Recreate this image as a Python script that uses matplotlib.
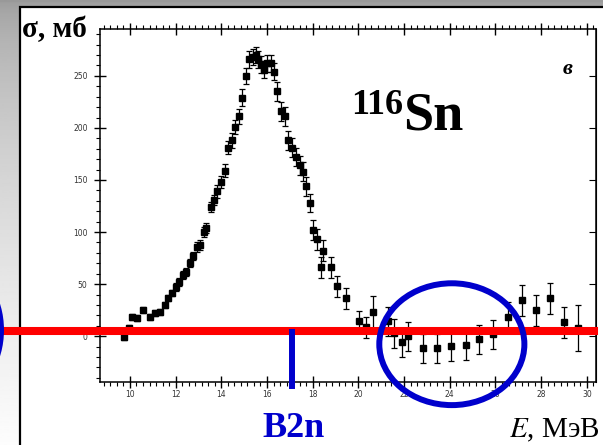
import numpy as np
import matplotlib.pyplot as plt
from matplotlib.patches import Ellipse, Rectangle
from matplotlib.ticker import MultipleLocator, FixedLocator

# энергия, МэВ
energy = [9.74, 9.96, 10.09, 10.31, 10.57, 10.88, 11.09, 11.31, 11.53, 11.66,
          11.84, 12.01, 12.14, 12.32, 12.45, 12.63, 12.76, 12.93, 13.06, 13.24,
          13.33, 13.54, 13.68, 13.81, 13.98, 14.16, 14.29, 14.46, 14.60, 14.77,
          14.90, 15.08, 15.21, 15.38, 15.51, 15.60, 15.73, 15.86, 16.00, 16.17,
          16.30, 16.43, 16.61, 16.78, 16.91, 17.09, 17.26, 17.44, 17.57, 17.70,
          17.88, 18.01, 18.18, 18.45, 18.36, 18.80, 19.06, 19.45, 20.02, 20.33,
          20.63, 21.29, 21.55, 21.90, 22.17, 22.82, 23.44, 24.05, 24.70, 25.27,
          25.89, 26.54, 27.16, 27.77, 28.38, 28.99, 29.61]
# сечение, мб
sigma = [-1, 7.7, 18.3, 17.3, 25, 18.3, 22, 23, 29.8, 36.5,
         41.3, 47, 52, 58.7, 61.5, 70, 77, 85.6, 87.5, 100,
         104, 124, 131, 139, 148, 159, 181, 188, 201, 211,
         229, 250, 266, 268, 270, 266, 261, 256, 262, 262,
         254, 235, 216, 211, 188, 181, 172, 164, 158, 144,
         128, 102, 93, 82, 66, 66, 48, 36.5, 14.4, 8.7,
         23, 14.4, 2.9, -5.8, 0, -11.5, -11.5, -9.6, -8.7, -2.9,
         1.9, 18.3, 34.6, 25, 36.5, 13.5, 7.7]
sigma_err = [3, 3, 3, 3, 3, 3, 3, 3, 3, 3,
             3, 4, 4, 4, 4, 4, 4, 5, 5, 5,
             5, 5, 5, 6, 6, 6, 6, 7, 7, 7,
             8, 8, 8, 8, 8, 8, 8, 8, 8, 8,
             8, 9, 9, 9, 9, 9, 9, 9, 9, 9,
             9, 10, 10, 10, 10, 10, 10, 10, 10, 10,
             16, 14, 14, 14, 14, 14, 14, 14, 14, 14,
             14, 15, 15, 15, 15, 15, 22]

x_ticks = [10, 12, 14, 16, 18, 20, 22, 24, 26, 28, 30]
y_ticks = [0, 50, 100, 150, 200, 250]

b2n = 17.1       # порог B2n, МэВ
level = 5        # красная линия

serif = ['Liberation Serif', 'DejaVu Serif']

fig = plt.figure(figsize=(6.03, 4.45), dpi=100)

# фон слайда
bg = fig.add_axes([0, 0, 1, 1], zorder=-10)
grad = np.linspace(0, 1, 200) ** 0.55
grad = 0.6 + 0.39 * grad
bg.imshow(grad[:, None], extent=[0, 1, 0, 1], aspect='auto', cmap='gray',
          vmin=0, vmax=1, origin='upper')
bg.add_patch(Rectangle((20 / 603, -0.1), 1.0, 1 - 7 / 445 + 0.1,
                       transform=bg.transAxes, facecolor='white',
                       edgecolor='black', linewidth=1.6))
bg.set_xlim(0, 1)
bg.set_ylim(0, 1)
bg.axis('off')

ax = fig.add_axes([100 / 603, 1 - 382 / 445, 496 / 603, 353 / 445])
ax.errorbar(energy, sigma, yerr=sigma_err, fmt='s', color='black',
            markersize=4.8, elinewidth=0.9, capsize=2.4, capthick=0.9)

ax.set_xlim(8.69, 30.4)
ax.set_ylim(-44, 295)
ax.xaxis.set_major_locator(FixedLocator(x_ticks))
ax.xaxis.set_minor_locator(MultipleLocator(2 / 7))
ax.yaxis.set_major_locator(FixedLocator(y_ticks))
ax.yaxis.set_minor_locator(MultipleLocator(10))
ax.tick_params(which='major', direction='inout', length=8, width=1,
               top=True, right=False, labelsize=5.5, labelcolor='#333333')
ax.tick_params(which='minor', direction='out', length=3, width=0.8,
               top=True, right=False)
ax.tick_params(axis='x', pad=2)
ax.tick_params(axis='y', pad=5)
for s in ax.spines.values():
    s.set_linewidth(1.1)

right = ax.secondary_yaxis('right')
right.yaxis.set_major_locator(FixedLocator(y_ticks))
right.tick_params(direction='in', length=5, labelright=False)

# красная линия и порог B2n
ax.axhline(level, xmin=-100 / 496, xmax=494 / 496, color='#ff0000',
           linewidth=5.8, clip_on=False, zorder=5)
ax.axvline(b2n, ymin=-4 / 353, ymax=50 / 353, color='#0000cc',
           linewidth=4.3, clip_on=False, zorder=6)

ax.add_patch(Ellipse((24.09, -7.7), 6.35, 117, fill=False,
                     edgecolor='#0000cc', linewidth=4.3, clip_on=False,
                     zorder=7))
fig.add_artist(Ellipse((-40 / 603, 1 - 330 / 445), 82 / 603, 120 / 445,
                       transform=fig.transFigure, fill=False,
                       edgecolor='#0000cc', linewidth=4.3))

# подписи
fig.text(22 / 603, 1 - 37 / 445, 'σ, мб', family=serif, fontsize=21,
         fontweight='bold')
fig.text(600 / 603, 1 - 437 / 445, '$\\mathit{E}$, МэВ', family=serif,
         fontsize=21, ha='right', math_fontfamily='stix')
fig.text(262 / 603, 1 - 437 / 445, 'B2n', family=serif, fontsize=26,
         fontweight='bold', color='#0000cc')
fig.text(403 / 603, 1 - 89 / 445, '116', family=serif, fontsize=26,
         fontweight='bold', ha='right', va='top')
fig.text(403 / 603, 1 - 130 / 445, 'Sn', family=serif, fontsize=39,
         fontweight='bold', ha='left', va='baseline')
fig.text(568 / 603, 1 - 74 / 445, 'в', family=serif, fontsize=16,
         fontweight='bold', fontstyle='italic', ha='center')

fig.savefig('out.png', dpi=100)
